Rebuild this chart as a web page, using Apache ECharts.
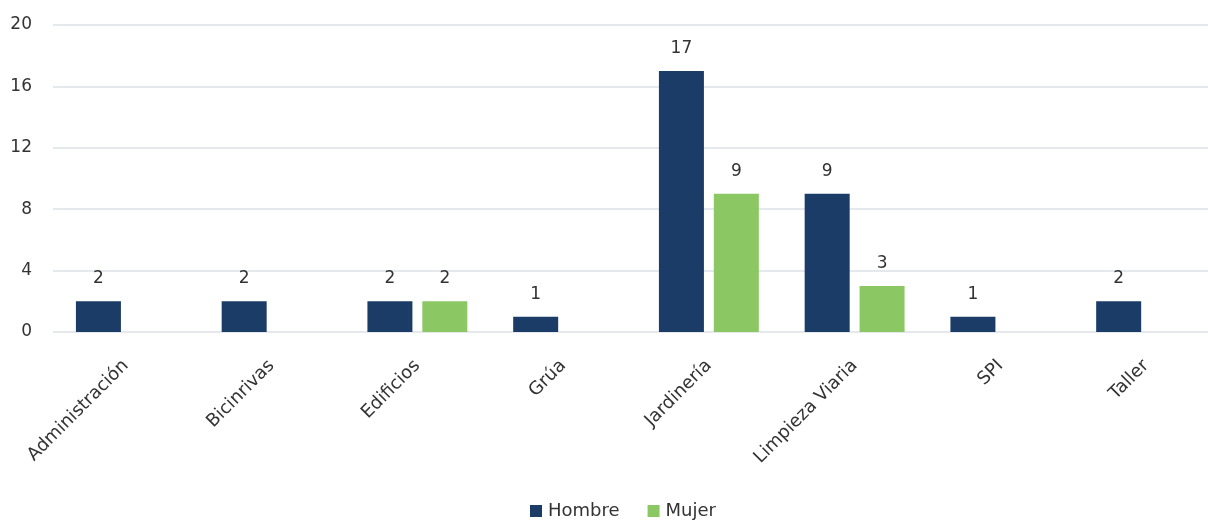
<!DOCTYPE html>
<html>
<head>
<meta charset="utf-8">
<script src="https://cdn.jsdelivr.net/npm/echarts@6/dist/echarts.min.js"></script>
<style>html,body{margin:0;padding:0;background:#fff}#c{width:1208px;height:520px}</style>
</head>
<body>
<div id="c"></div>
<script>
const categories = ["Administración","Bicinrivas","Edificios","Grúa","Jardinería","Limpieza Viaria","SPI","Taller"];
const hombre = [2,2,2,1,17,9,1,2];
const mujer = [null,null,2,null,9,3,null,null];
const seriesNames = ["Hombre","Mujer"];
const yTicks = {min:0,max:20,interval:4};

const chart = echarts.init(document.getElementById('c'));
const txt = '#333';
const font = 'DejaVu Sans';
chart.setOption({
  animation:false,
  textStyle:{fontFamily:font},
  grid:{left:53,right:-11,top:25,bottom:188,outerBoundsMode:'none',containLabel:false},
  legend:{
    top:502,left:530,padding:0,
    icon:'rect',itemWidth:12,itemHeight:12,itemGap:28,
    textStyle:{color:txt,fontSize:18,fontFamily:font,padding:[0,0,0,1]},
    data:seriesNames
  },
  xAxis:{
    type:'category',data:categories,
    axisLine:{show:false},axisTick:{show:false},
    axisLabel:{rotate:45,margin:31,color:txt,fontSize:18,fontFamily:font,interval:0}
  },
  yAxis:{
    type:'value',min:yTicks.min,max:yTicks.max,interval:yTicks.interval,
    axisLine:{show:false},axisTick:{show:false},
    axisLabel:{color:txt,fontSize:17,margin:21,fontFamily:font},
    splitLine:{lineStyle:{color:'#dce2e7',width:1.5}}
  },
  series:[
    {name:seriesNames[0],type:'bar',data:hombre,barWidth:45,barGap:'22%',
     itemStyle:{color:'#1a3c67'},
     label:{show:true,position:'top',distance:14,color:txt,fontSize:17,fontFamily:font}},
    {name:seriesNames[1],type:'bar',data:mujer,barWidth:45,barGap:'22%',
     itemStyle:{color:'#8bc763'},
     label:{show:true,position:'top',distance:14,color:txt,fontSize:17,fontFamily:font}}
  ]
});
</script>
</body>
</html>
